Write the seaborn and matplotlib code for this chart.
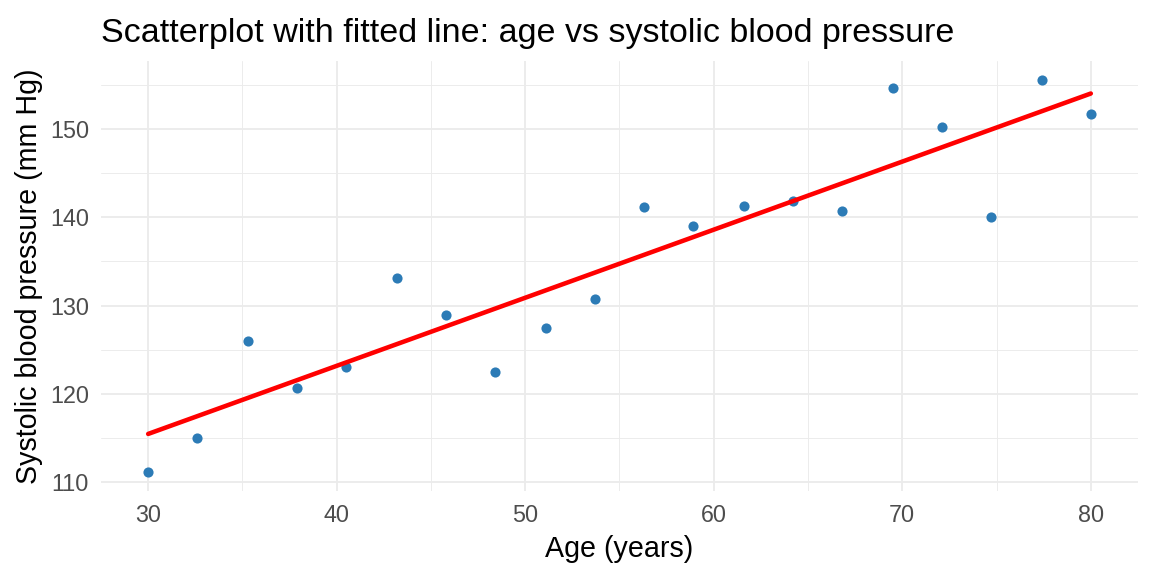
import matplotlib
matplotlib.use("Agg")
import pandas as pd
import matplotlib.pyplot as plt
import seaborn as sns
from matplotlib.ticker import MultipleLocator

# values
age = [30.0, 32.6, 35.3, 37.9, 40.5, 43.2, 45.8, 48.4, 51.1, 53.7,
       56.3, 58.9, 61.6, 64.2, 66.8, 69.5, 72.1, 74.7, 77.4, 80.0]
sbp = [111.2, 115.0, 126.0, 120.7, 123.0, 133.1, 128.9, 122.5, 127.5, 130.8,
       141.2, 139.0, 141.3, 141.9, 140.7, 154.6, 150.2, 140.0, 155.5, 151.7]

df = pd.DataFrame({"Age (years)": age, "Systolic blood pressure (mm Hg)": sbp})

sns.set_style("white")
plt.rcParams['font.family'] = ['Liberation Sans', 'DejaVu Sans']

fig = plt.figure(figsize=(12, 6), dpi=96)
ax = fig.add_axes([0.0877, 0.1476, 0.9001, 0.7465])

sns.regplot(data=df, x="Age (years)", y="Systolic blood pressure (mm Hg)", ax=ax,
            ci=None, scatter_kws=dict(color="#2C7BB6", s=58, alpha=1, linewidths=0, zorder=3),
            line_kws=dict(color="red", lw=3.4, zorder=4))

ax.set_xlim(27.5, 82.5)
ax.set_ylim(109.0, 157.7)
ax.xaxis.set_major_locator(MultipleLocator(10))
ax.xaxis.set_minor_locator(MultipleLocator(5))
ax.yaxis.set_major_locator(MultipleLocator(10))
ax.yaxis.set_minor_locator(MultipleLocator(5))
ax.grid(which="major", color="#EBEBEB", lw=1.4)
ax.grid(which="minor", color="#EBEBEB", lw=0.7)
ax.set_axisbelow(True)
sns.despine(left=True, bottom=True)
ax.tick_params(which="both", length=0, labelsize=17.5, labelcolor="#4D4D4D")
ax.tick_params(axis="x", pad=10)
ax.tick_params(axis="y", pad=9)

ax.set_xlabel("Age (years)", fontsize=21.5, color="black", labelpad=6)
ax.set_ylabel("Systolic blood pressure (mm Hg)", fontsize=21.5, color="black", labelpad=5)
ax.set_title("Scatterplot with fitted line: age vs systolic blood pressure",
             fontsize=25.5, color="black", loc="left", x=0.0, pad=14)

plt.savefig("out.png", dpi=96)
